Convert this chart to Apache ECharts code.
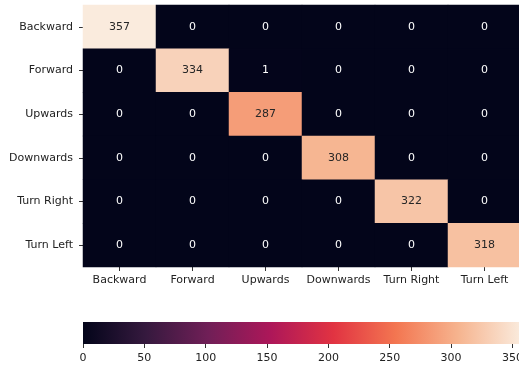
<!DOCTYPE html>
<html>
<head>
<meta charset="utf-8">
<script src="https://cdn.jsdelivr.net/npm/echarts@6/dist/echarts.min.js"></script>
<style>
html,body{margin:0;padding:0;background:#fff;}
#chart{width:519px;height:368px;}
</style>
</head>
<body>
<div id="chart"></div>
<script>
const categories = ['Backward', 'Forward', 'Upwards', 'Downwards', 'Turn Right', 'Turn Left'];
const row0 = [357, 0, 0, 0, 0, 0];
const row1 = [0, 334, 1, 0, 0, 0];
const row2 = [0, 0, 287, 0, 0, 0];
const row3 = [0, 0, 0, 308, 0, 0];
const row4 = [0, 0, 0, 0, 322, 0];
const row5 = [0, 0, 0, 0, 0, 318];
const matrix = [row0, row1, row2, row3, row4, row5];
const colorMin = 0;
const colorMax = 357;
const colorbarTicks = [0, 50, 100, 150, 200, 250, 300, 350];

const rocketStops = [
  [0.0, '#03051a'],
  [1/7, '#35193e'],
  [2/7, '#701f57'],
  [3/7, '#ad1759'],
  [4/7, '#e13342'],
  [5/7, '#f37651'],
  [6/7, '#f6b48f'],
  [1.0, '#faebdd']
];
const FONT = 'DejaVu Sans';

const heatData = [];
matrix.forEach((row, i) => {
  row.forEach((v, j) => {
    heatData.push({
      value: [j, i, v],
      label: { color: (v - colorMin) / (colorMax - colorMin) > 0.5 ? '#262626' : '#ffffff' }
    });
  });
});

const chart = echarts.init(document.getElementById('chart'), null, { renderer: 'canvas' });
chart.setOption({
  animation: false,
  backgroundColor: '#ffffff',
  textStyle: { fontFamily: FONT },
  grid: [
    { left: 83, top: 5, width: 438, height: 262, outerBoundsMode: 'none', containLabel: false },
    { left: 83, top: 322, width: 438, height: 22, outerBoundsMode: 'none', containLabel: false }
  ],
  xAxis: [
    {
      gridIndex: 0, type: 'category', data: categories, position: 'bottom',
      axisLine: { show: false },
      axisTick: { show: true, alignWithLabel: true, length: 4, lineStyle: { color: '#333', width: 1 } },
      axisLabel: { fontFamily: FONT, fontSize: 11, color: '#222', margin: 8, interval: 0 },
      splitLine: { show: false }
    },
    {
      gridIndex: 1, type: 'value', min: colorMin, max: colorMax, interval: 50,
      axisLine: { show: false },
      axisTick: { show: true, length: 4, customValues: colorbarTicks, lineStyle: { color: '#333', width: 1 } },
      axisLabel: { fontFamily: FONT, fontSize: 11, color: '#222', margin: 9, customValues: colorbarTicks },
      splitLine: { show: false }
    }
  ],
  yAxis: [
    {
      gridIndex: 0, type: 'category', data: categories, inverse: true,
      axisLine: { show: false },
      axisTick: { show: true, alignWithLabel: true, length: 4, lineStyle: { color: '#333', width: 1 } },
      axisLabel: { fontFamily: FONT, fontSize: 11, color: '#222', margin: 10, interval: 0 },
      splitLine: { show: false }
    },
    {
      gridIndex: 1, type: 'value', min: 0, max: 1, show: false
    }
  ],
  visualMap: {
    show: false, type: 'continuous', min: colorMin, max: colorMax, seriesIndex: 0, dimension: 2,
    inRange: { color: rocketStops.map(s => s[1]) }
  },
  series: [
    {
      type: 'heatmap', xAxisIndex: 0, yAxisIndex: 0, data: heatData,
      label: { show: true, fontFamily: FONT, fontSize: 11 },
      itemStyle: { borderWidth: 0 },
      emphasis: { disabled: true }
    },
    {
      type: 'custom', xAxisIndex: 1, yAxisIndex: 1,
      data: [[colorMin, colorMax]],
      encode: { x: [0, 1] },
      renderItem: function (params, api) {
        const p0 = api.coord([api.value(0), 0]);
        const p1 = api.coord([api.value(1), 1]);
        return {
          type: 'rect',
          shape: { x: p0[0], y: p1[1], width: p1[0] - p0[0], height: p0[1] - p1[1] },
          style: {
            fill: new echarts.graphic.LinearGradient(0, 0, 1, 0,
              rocketStops.map(s => ({ offset: s[0], color: s[1] })))
          }
        };
      }
    }
  ]
});
</script>
</body>
</html>
